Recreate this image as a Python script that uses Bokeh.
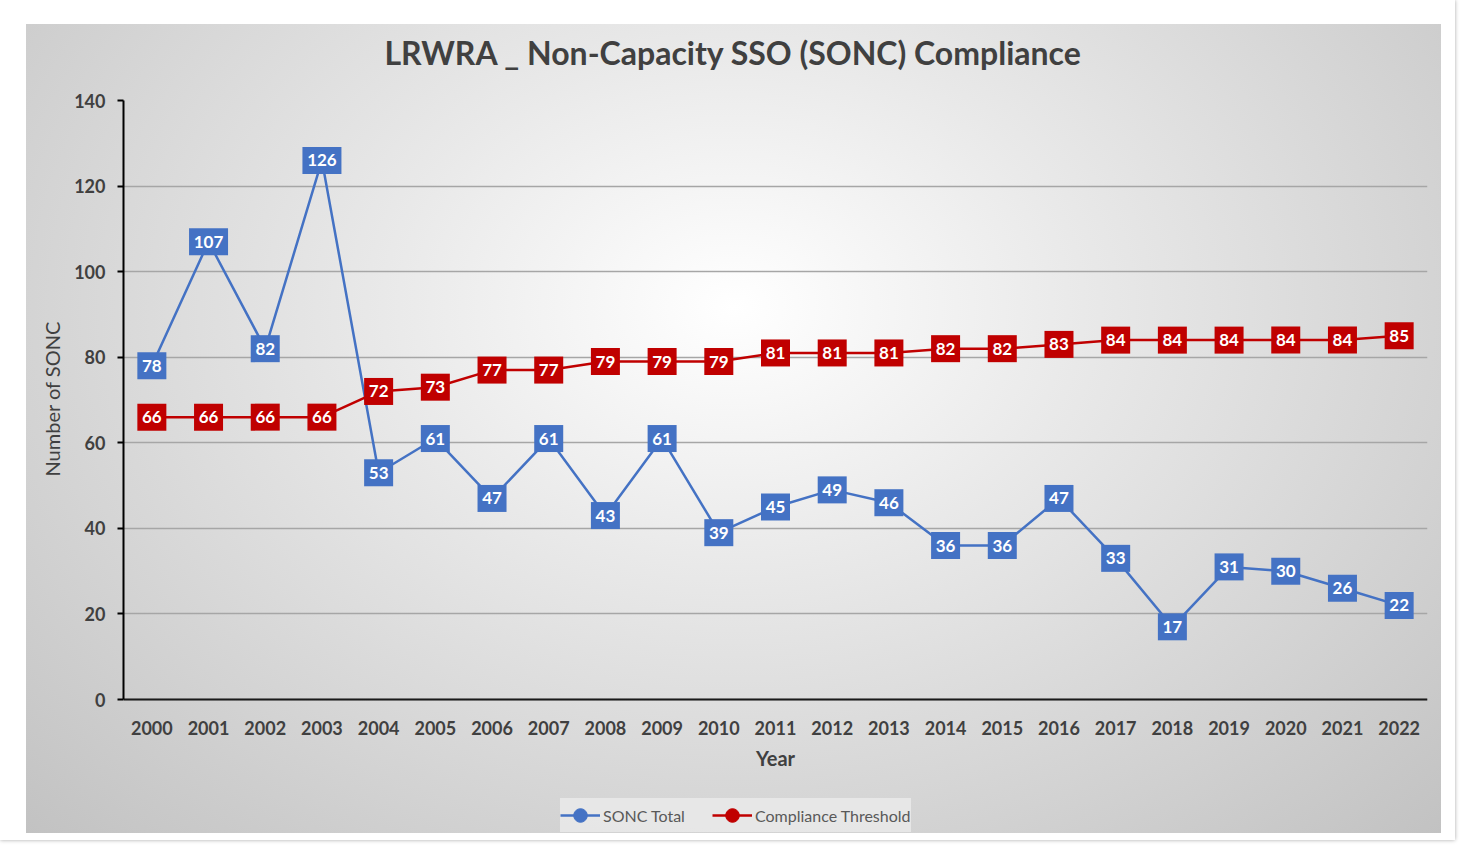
from bokeh.plotting import figure
from bokeh.models import FactorRange, Range1d, Legend, LegendItem, ColumnDataSource, Title
from bokeh.core.properties import value
from bokeh.embed import file_html
from bokeh.resources import INLINE

years = [str(y) for y in range(2000, 2023)]
sonc_total = [78, 107, 82, 126, 53, 61, 47, 61, 43, 61, 39, 45, 49, 46, 36, 36, 47, 33, 17, 31, 30, 26, 22]
threshold = [66, 66, 66, 66, 72, 73, 77, 77, 79, 79, 79, 81, 81, 81, 82, 82, 83, 84, 84, 84, 84, 84, 85]
y_ticks = [0, 20, 40, 60, 80, 100, 120, 140]

BLUE = "#4472c4"
RED = "#c00000"
FONT = "Lato"

bg_css = ("radial-gradient(ellipse farthest-corner at 50% 35%, #ffffff 0%, #e9e9e9 35%, #d4d4d4 70%, #c2c2c2 100%)")

# the frame extends below 0 so that the x axis labels and legend sit inside it
p = figure(width=1455, height=840, x_range=FactorRange(*years, range_padding=0),
           y_range=Range1d(-32.94, 140), output_backend="svg", toolbar_location=None,
           min_border_left=123, min_border_right=28, min_border_top=100, min_border_bottom=0,
           title="LRWRA _ Non-Capacity SSO (SONC) Compliance",
           styles={"background-color": "#ffffff",
                   "background-image": bg_css,
                   "background-size": "1415px 809px",
                   "background-position": "26px 24px",
                   "background-repeat": "no-repeat",
                   "box-shadow": "0 0 4px rgba(0,0,0,0.35)"})
p.border_fill_alpha = 0
p.background_fill_alpha = 0
p.outline_line_color = None

p.title.text_font = FONT
p.title.text_font_size = "32px"
p.title.text_font_style = "bold"
p.title.text_color = "#404040"
p.title.align = "left"
p.title.offset = 261
p.title.standoff = 58

# axes
p.yaxis.ticker = y_ticks
p.yaxis.bounds = (0, 140)
p.yaxis.axis_line_color = "black"
p.yaxis.axis_line_width = 2
p.yaxis.major_tick_line_color = "black"
p.yaxis.major_tick_line_width = 2
p.yaxis.major_tick_out = 6
p.yaxis.major_tick_in = 0
p.yaxis.minor_tick_line_color = None
p.yaxis.major_label_text_font = FONT
p.yaxis.major_label_text_font_size = "18px"
p.yaxis.major_label_text_font_style = "bold"
p.yaxis.major_label_text_color = "#404040"
p.yaxis.major_label_standoff = 12

# y axis title, positioned along the 0..140 part of the frame
ytitle = Title(text="Number of SONC", align="left", offset=364, standoff=16,
               text_font=FONT, text_font_size="20px", text_font_style="normal",
               text_color="#404040")
p.add_layout(ytitle, "left")

p.xaxis.fixed_location = 0
p.xaxis.axis_line_color = "#1a1a1a"
p.xaxis.axis_line_width = 2
p.xaxis.major_tick_line_color = None
p.xaxis.minor_tick_line_color = None
p.xaxis.major_label_text_font = FONT
p.xaxis.major_label_text_font_size = "18px"
p.xaxis.major_label_text_font_style = "bold"
p.xaxis.major_label_text_color = "#404040"
p.xaxis.major_label_standoff = 15
p.xaxis.axis_label = "Year"
p.xaxis.axis_label_text_font = FONT
p.xaxis.axis_label_text_font_size = "20px"
p.xaxis.axis_label_text_font_style = "bold"
p.xaxis.axis_label_text_color = "#404040"
p.xaxis.axis_label_standoff = 8

p.xgrid.grid_line_color = None
p.ygrid.grid_line_color = "#a6a6a6"
p.ygrid.grid_line_width = 1.5

s_lbl = [str(v) for v in sonc_total]
t_lbl = [str(v) for v in threshold]
src = ColumnDataSource(dict(x=years, s=sonc_total, t=threshold, sl=s_lbl, tl=t_lbl,
                            sw=[9 + 10 * len(v) for v in s_lbl],
                            tw=[9 + 10 * len(v) for v in t_lbl]))

l1 = p.line("x", "s", source=src, line_color=BLUE, line_width=2.5)
c1 = p.scatter("x", "s", source=src, size=8, color=BLUE)
l2 = p.line("x", "t", source=src, line_color=RED, line_width=2.5)
c2 = p.scatter("x", "t", source=src, size=8, color=RED)

for col, yc, wc, colr in (("sl", "s", "sw", BLUE), ("tl", "t", "tw", RED)):
    p.rect("x", yc, width=wc, height=27, width_units="screen", height_units="screen",
           source=src, fill_color=colr, line_color=None)
    p.text("x", yc, text=col, source=src, text_align="center", text_baseline="middle",
           text_font=value(FONT), text_font_size="17px", text_font_style="bold",
           text_color="white")

legend = Legend(items=[LegendItem(label="SONC Total", renderers=[l1, c1]),
                       LegendItem(label="Compliance Threshold", renderers=[l2, c2])],
                orientation="horizontal", location=(437, 8), margin=0,
                label_text_font=FONT, label_text_font_size="16px", label_text_color="#595959",
                background_fill_color="#ebebeb", background_fill_alpha=0.8,
                border_line_color=None, glyph_width=40, glyph_height=34, label_height=34,
                spacing=27, padding=0, label_standoff=3)
p.add_layout(legend, "center")

open("out.html", "w").write(file_html(p, INLINE))
